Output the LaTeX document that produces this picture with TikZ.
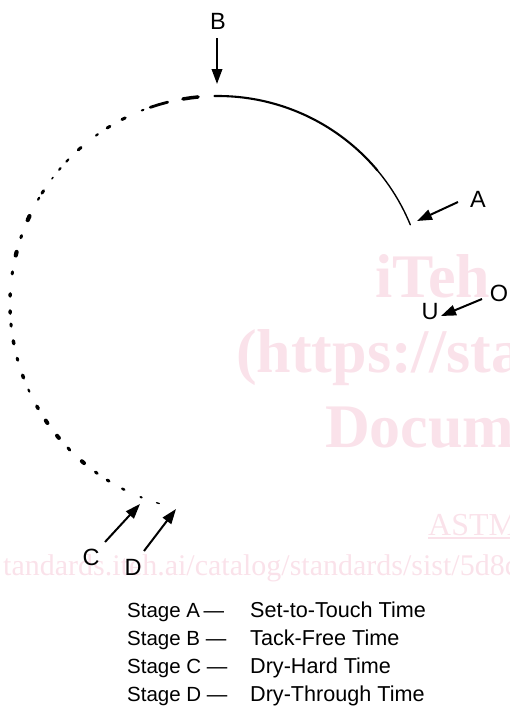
\documentclass[tikz,border=0pt]{standalone}
\usepackage{fontspec}
\setmainfont{Liberation Sans}
\newfontfamily\wmfont{Liberation Serif}
\usetikzlibrary{arrows.meta}
\definecolor{wmpink}{RGB}{250,226,234}
\tikzset{
  ptr/.style={line width=2pt,-{Triangle[length=15pt,width=10.5pt]}},
  lbl/.style={inner sep=0pt,font=\fontsize{23.5}{28}\selectfont},
  leg/.style={inner sep=0pt,anchor=base west,font=\fontsize{20.5}{24}\selectfont},
  legr/.style={leg,font=\fontsize{21.6}{24}\selectfont},
  wmbig/.style={inner sep=0pt,anchor=base west,text=wmpink,font=\wmfont\bfseries\fontsize{62}{70}\selectfont},
  wmsmall/.style={inner sep=0pt,anchor=base west,text=wmpink,font=\wmfont\fontsize{30}{34}\selectfont},
  film/.style={line cap=round,black}
}
\begin{document}
\begin{tikzpicture}[x=1pt,y=-1pt]
\useasboundingbox (0,0) rectangle (509,712);
% watermark
\node[wmbig] (w1) at (375,297) {iTeh};
\node[wmbig] (w2) at (236,372) {(https://sta};
\node[wmbig] (w3) at (325,447) {Docum};
\node[wmsmall,font=\wmfont\fontsize{32}{36}\selectfont] (w4) at (428,535) {ASTM};
\draw[wmpink,line width=1.5pt] (w4.base west)++(0,3) -- ++(90,0);
\node[wmsmall] (w5) at (3,575) {tandards.iteh.ai/catalog/standards/sist/5d8c};
% solid arc (stages up to A and B)
\draw[film,line width=2.1pt] plot[domain=40:91,samples=60] ({218+208*cos(\x)},{304-208*sin(\x)});
\draw[film,line width=1.4pt] plot[domain=22.4:40.5,samples=30] ({218+208*cos(\x)},{304-208*sin(\x)});
% dotted arc
\foreach \a/\b/\w in {95.5/99.7/3.5,104/109/2.8,111/111.5/2,116.5/117.5/3,121.3/122.2/3,125.3/125.9/2.2,131.2/132.2/3,136/136.8/2.2,139.2/139.8/2.2,142.5/143/1.5,147/147.8/3,149.3/149.9/2.2,155/156.2/4.2,160.8/161.4/3,165.5/166.5/4.2,171.1/171.7/3,177.2/177.8/3.5,181.9/182.5/3.5,185.5/186.1/3,190.2/191/3.5,195.1/195.7/3,200/200.8/3.5,204.3/204.9/2.2,209.4/210.2/3.5,214.1/214.9/4,219.3/220.1/4,223.8/224.6/3,229.1/229.9/4,233.9/234.5/3,237.8/238.4/3,242.6/243.2/2.5,248.1/248.5/2,252.8/253.6/1.3}
  \draw[film,line width=\w pt] plot[domain=\a:\b,samples=3] ({218+208*cos(\x)},{304-208*sin(\x)});
% labels
\node[lbl] (B) at (218,21) {B};
\node[lbl] (A) at (478,199) {A};
\node[lbl] (O) at (499,293) {O};
\node[lbl] (U) at (430,312) {U};
\node[lbl] (C) at (91,557) {C};
\node[lbl] (D) at (133,567) {D};
% arrow ends
\coordinate (Bt) at (217,38);
\coordinate (Bh) at (217,84);
\coordinate (At) at (458,202);
\coordinate (Ah) at (417,221);
\coordinate (Ot) at (482,299);
\coordinate (Oh) at (441,316);
\coordinate (Ct) at (105,542);
\coordinate (Ch) at (140,504);
\coordinate (Dt) at (144,551);
\coordinate (Dh) at (176,509);
\draw[ptr] (Bt) -- (Bh);
\draw[ptr] (At) -- (Ah);
\draw[ptr] (Ot) -- (Oh);
\draw[ptr] (Ct) -- (Ch);
\draw[ptr] (Dt) -- (Dh);
% legend
\node[leg] (la) at (127,617) {Stage A\,—};
\node[leg] (lb) at (127,645) {Stage B —};
\node[leg] (lc) at (127,673) {Stage C —};
\node[leg] (ld) at (127,701) {Stage D —};
\node[legr] (ra) at (250,617) {Set-to-Touch Time};
\node[legr] (rb) at (250,645) {Tack-Free Time};
\node[legr] (rc) at (250,673) {Dry-Hard Time};
\node[legr] (rd) at (250,701) {Dry-Through Time};
\end{tikzpicture}
\end{document}
